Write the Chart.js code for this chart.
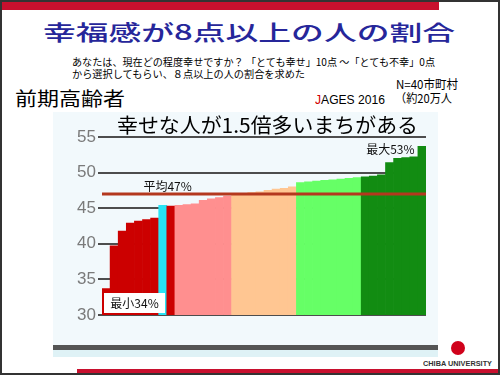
<!DOCTYPE html>
<html>
<head>
<meta charset="utf-8">
<script src="https://cdn.jsdelivr.net/npm/chart.js@4.4.1/dist/chart.umd.min.js"></script>
<style>
  html, body { margin: 0; padding: 0; background: #fff; }
  #slide { position: relative; width: 500px; height: 375px; overflow: hidden; font-family: "Noto Sans CJK JP", sans-serif; background: #fff; }
  #frame { position: absolute; left: 0; top: 0; width: 500px; height: 375px; box-sizing: border-box; border: 2px solid #333; z-index: 10; }
  .t { position: absolute; white-space: nowrap; line-height: 1; transform-origin: 0 0; color: #000; }
  .bar { position: absolute; }
  #panel { position: absolute; left: 53px; top: 112px; width: 385px; height: 245px; background: #f2f9fc; }
  #chartBox { position: absolute; left: 53px; top: 113px; width: 385px; height: 232px; }
</style>
</head>
<body>
<div id="slide">
  <div class="bar" style="left:2px;top:2px;width:437px;height:8px;background:#c8102e"></div>
  <div class="bar" style="left:77px;top:369px;width:423px;height:5px;background:#c8102e"></div>

  <span class="t" data-w="412" style="left:43px;top:21px;font-size:21px;font-weight:500;color:#26269a">幸福感が8点以上の人の割合</span>
  <span class="t" data-w="363" style="left:72px;top:57px;font-size:10px">あなたは、現在どの程度幸せですか？ 「とても幸せ」10点 ～「とても不幸」0点</span>
  <span class="t" data-w="233" style="left:72px;top:69px;font-size:10px">から選択してもらい、８点以上の人の割合を求めた</span>
  <span class="t" data-w="110" style="left:15px;top:88px;font-size:19px">前期高齢者</span>
  <span class="t" data-w="70" style="left:315px;top:94px;font-size:12px;font-family:'Liberation Sans',sans-serif"><span style="color:#d00000">J</span>AGES 2016</span>
  <span class="t" data-w="62" style="left:396px;top:78px;font-size:12px">N=40市町村</span>
  <span class="t" data-w="57" style="left:395px;top:92px;font-size:12px">（約20万人</span>

  <div id="panel"></div>
  <div class="bar" style="left:53px;top:345px;width:385px;height:5px;background:#555"></div>
  <div class="bar" style="left:53px;top:350px;width:385px;height:7px;background:#dff2f6"></div>
  <div id="chartBox"><canvas id="myBarChart" width="385" height="232"></canvas></div>
  <span class="t" data-w="301" style="left:117px;top:114px;font-size:20.5px">幸せな人が1.5倍多いまちがある</span>

  <div class="bar" style="left:451px;top:341px;width:14px;height:14px;border-radius:50%;background:#d0021b"></div>
  <span class="t" data-w="69" style="left:423px;top:360px;font-size:7.5px;font-weight:bold;font-family:'Liberation Sans',sans-serif;color:#333">CHIBA UNIVERSITY</span>
  <div id="frame"></div>
</div>

<script>
// |------------------------------- data -------------------------------|

// 40 municipalities, sorted by share of people scoring 8+ (%)
var municipalities = ['1','2','3','4','5','6','7','8','9','10',
  '11','12','13','14','15','16','17','18','19','20',
  '21','22','23','24','25','26','27','28','29','30',
  '31','32','33','34','35','36','37','38','39','40'];

var happyRates = [33.7, 39.7, 41.8, 42.9, 43.2, 43.4, 43.6, 45.4, 45.3,
  45.4, 45.5, 45.6, 46.1, 46.3, 46.5, 46.7,
  46.8, 47.0, 47.2, 47.3, 47.5, 47.7, 47.8, 48.0,
  48.6, 48.7, 48.8, 48.9, 49.0, 49.1, 49.2, 49.3,
  49.4, 49.5, 49.7, 51.4, 52.0, 52.1, 52.2, 53.7];

// group of each municipality (0 = highlighted town, 1..5 = low -> high)
var groups = [1, 1, 1, 1, 1, 1, 1, 0, 1,
  2, 2, 2, 2, 2, 2, 2,
  3, 3, 3, 3, 3, 3, 3, 3,
  4, 4, 4, 4, 4, 4, 4, 4,
  5, 5, 5, 5, 5, 5, 5, 5];

var average = 47;
var yTicks = [30, 35, 40, 45, 50, 55];
var avgLabel = '平均47%';
var maxLabel = '最大53%';
var minLabel = '最小34%';

var groupColors = ['rgb(40,228,245)', 'rgb(204,0,0)', 'rgb(255,143,143)',
  'rgb(255,198,146)', 'rgb(102,255,102)', 'rgb(18,140,18)'];

// stretch slide texts to the widths used on the original slide
document.querySelectorAll('.t[data-w]').forEach(function (el) {
  var w = el.getBoundingClientRect().width;
  el.style.transform = 'scaleX(' + (parseFloat(el.dataset.w) / w) + ')';
});

// |------------------------------- average line + labels -------------------------------|

var annotations = {
  id: 'annotations',
  afterDatasetsDraw: function (chart) {
    var ctx = chart.ctx, area = chart.chartArea;
    var x = chart.scales.x, y = chart.scales.y;
    var ya = y.getPixelForValue(average);
    var iMax = happyRates.indexOf(Math.max.apply(null, happyRates));

    ctx.save();
    ctx.strokeStyle = 'rgb(180,56,30)';
    ctx.lineWidth = 3;
    ctx.beginPath();
    ctx.moveTo(area.left, ya);
    ctx.lineTo(area.right, ya);
    ctx.stroke();

    ctx.font = '12px "Noto Sans CJK JP"';
    ctx.fillStyle = '#111';
    ctx.textAlign = 'center';
    ctx.textBaseline = 'middle';
    ctx.fillText(avgLabel, x.getPixelForValue(7.6), ya - 8);
    ctx.fillText(maxLabel, x.getPixelForValue(iMax - 3.9), y.getPixelForValue(happyRates[iMax]) + 3);

    // white box for the minimum
    ctx.fillStyle = '#fff';
    ctx.fillRect(area.left + 2, area.bottom - 22, 61, 20);
    ctx.fillStyle = '#111';
    ctx.fillText(minLabel, area.left + 32.5, area.bottom - 12);
    ctx.restore();
  }
};

// |------------------------------- Chart.js - Bar Chart -------------------------------|

var ctx = document.getElementById('myBarChart').getContext('2d');
var myBarChart = new Chart(ctx, {
  type: 'bar',
  data: {
    labels: municipalities,
    datasets: [{
      label: '幸福感8点以上の割合',
      data: happyRates,
      backgroundColor: groups.map(function (g) { return groupColors[g]; }),
      borderWidth: 0,
      barPercentage: 1,
      categoryPercentage: 1
    }]
  },
  options: {
    responsive: false,
    animation: false,
    layout: { padding: { top: 24, right: 12, bottom: 30, left: 0 } },
    scales: {
      x: { display: false },
      y: {
        min: 30,
        max: 55,
        afterFit: function (scale) { scale.width = 49; },
        afterBuildTicks: function (scale) {
          scale.ticks = yTicks.map(function (v) { return { value: v }; });
        },
        border: { display: false },
        grid: { color: '#4d4d4d', lineWidth: 2, tickLength: 4 },
        ticks: {
          padding: 2,
          color: '#7a7a7a',
          font: { family: 'Liberation Sans', size: 17 }
        }
      }
    },
    plugins: {
      legend: { display: false },
      tooltip: { enabled: false }
    }
  },
  plugins: [annotations]
});
</script>
</body>
</html>
